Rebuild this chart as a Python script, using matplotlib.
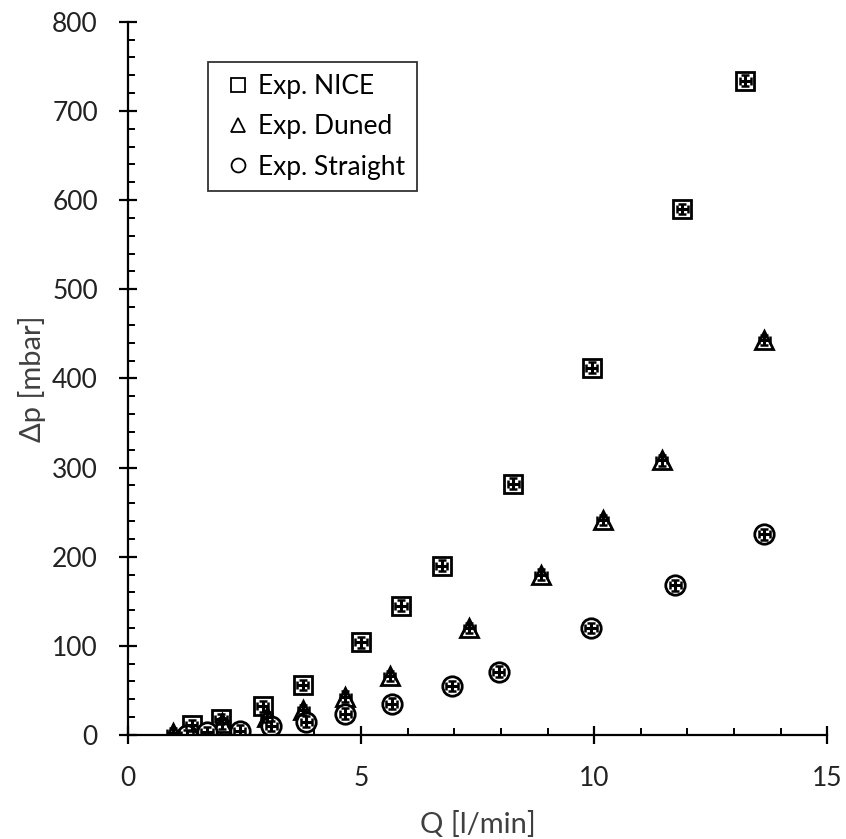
import matplotlib.pyplot as plt
from matplotlib.lines import Line2D
from matplotlib.ticker import MultipleLocator

plt.rcParams['font.family'] = ['Lato', 'DejaVu Sans']

# values
nice_q = [1.37, 2.00, 2.89, 3.75, 5.00, 5.86, 6.73, 8.27, 9.95, 11.89, 13.24]
nice_dp = [11, 18, 32, 56, 104, 145, 190, 282, 412, 590, 734]

duned_q = [0.97, 2.02, 2.98, 3.76, 4.66, 5.62, 7.32, 8.86, 10.18, 11.45, 13.65]
duned_dp = [2, 13, 20, 28, 43, 66, 120, 180, 241, 308, 443]

straight_q = [1.27, 1.70, 2.40, 3.08, 3.83, 4.66, 5.66, 6.95, 7.95, 9.93, 11.74, 13.65]
straight_dp = [0, 3, 5, 10, 15, 24, 35, 55, 71, 120, 168, 225]

q_err = 0.12
dp_err = 6

labels = ['Exp. NICE', 'Exp. Duned', 'Exp. Straight']

fig = plt.figure(figsize=(8.46, 8.39), dpi=100)
ax = fig.add_axes([0.151, 0.124, 0.827, 0.850])

series = [(nice_q, nice_dp, 's', 13), (duned_q, duned_dp, '^', 13), (straight_q, straight_dp, 'o', 14)]
for q, dp, m, ms in series:
    ax.plot(q, dp, linestyle='None', marker=m, markersize=ms, markerfacecolor='white',
            markeredgecolor='black', markeredgewidth=2, zorder=2)
    ax.errorbar(q, dp, xerr=q_err, yerr=dp_err, fmt='none', ecolor='black',
                elinewidth=2.2, capsize=3, capthick=1.8, zorder=3)

ax.set_xlim(0, 15)
ax.set_ylim(0, 800)
ax.xaxis.set_major_locator(MultipleLocator(5))
ax.xaxis.set_minor_locator(MultipleLocator(1))
ax.yaxis.set_major_locator(MultipleLocator(100))
ax.yaxis.set_minor_locator(MultipleLocator(20))

for s in ['top', 'right']:
    ax.spines[s].set_visible(False)
for s in ['left', 'bottom']:
    ax.spines[s].set_linewidth(1.6)

ax.tick_params(which='major', direction='inout', length=13, width=1.6, labelsize=19,
               labelcolor='#222222')
ax.tick_params(axis='y', which='major', pad=15)
ax.tick_params(axis='x', which='major', pad=16)
ax.tick_params(which='minor', direction='in', length=5, width=1.4)

ax.set_xlabel('Q [l/min]', fontsize=21, color='#404040', labelpad=14)
ax.set_ylabel('Δp [mbar]', fontsize=21, color='#404040', labelpad=4)

handles = [Line2D([], [], linestyle='None', marker=m, markersize=10, markerfacecolor='white',
                  markeredgecolor='black', markeredgewidth=1.3) for m in ['s', '^', 'o']]
leg = ax.legend(handles, labels, loc='upper left', bbox_to_anchor=(0.246, 0.926),
                bbox_transform=fig.transFigure, fontsize=19, frameon=True, fancybox=False,
                handlelength=1.4, handletextpad=0.05, labelspacing=0.58, borderpad=0.45,
                borderaxespad=0)
leg.get_frame().set_edgecolor('black')
leg.get_frame().set_linewidth(1.3)
for t in leg.get_texts():
    t.set_color('black')

fig.savefig('out.png', dpi=100)
